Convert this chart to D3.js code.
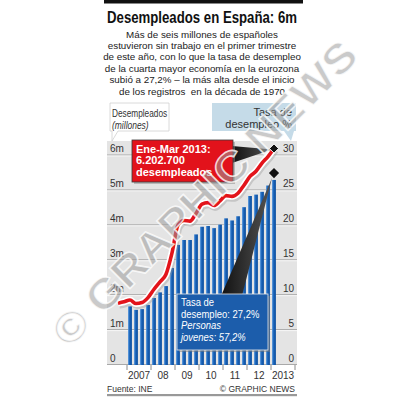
<!DOCTYPE html>
<meta charset="utf-8">
<style>
body { margin: 0; background: #fff; }
svg { display: block; font-family: "Liberation Sans", Arial, sans-serif; }
</style>
<body>
<svg width="404" height="397"></svg>
<script src="https://d3js.org/d3.v7.min.js"></script>
<script>

// unemployment rate (%), quarterly bars, 2007 Q1 .. 2013 Q1
var rate = [8.4, 7.9, 8.0, 8.6,
            9.6, 10.4, 11.3, 13.9,
            17.2, 17.9, 17.9, 18.7,
            19.8, 19.9, 19.6, 20.1,
            21.0, 20.7, 21.3, 22.6,
            24.2, 24.4, 24.8, 25.7,
            26.5];
// unemployed (millions), quarterly line, 2006 Q3 .. 2013 Q1
var unemployed = [1.77, 1.81,
                  1.86, 1.76, 1.79, 1.93,
                  2.17, 2.38, 2.60, 3.21,
                  4.01, 4.14, 4.12, 4.34,
                  4.61, 4.65, 4.57, 4.70,
                  4.85, 4.83, 4.92, 5.15,
                  5.40, 5.55, 5.78, 5.97,
                  6.20];
var yearLabels = ["2007", "08", "09", "10", "11", "12", "2013"];
var leftTicks = [0, 1, 2, 3, 4, 5, 6];
var rightTicks = [0, 5, 10, 15, 20, 25, 30];
var subtitle = [
  "Más de seis millones de españoles",
  "estuvieron sin trabajo en el primer trimestre",
  "de este año, con lo que la tasa de desempleo",
  "de la cuarta mayor economía en la eurozona",
  "subió a 27,2% – la más alta desde el inicio",
  "de los registros  en la década de 1970"
];

var svg = d3.select("svg");

var x = d3.scaleLinear().domain([2007, 2014]).range([127, 295]);
var y = d3.scaleLinear().domain([0, 6]).range([365, 155.5]);
var yr = d3.scaleLinear().domain([0, 30]).range([365, 155.5]);

// quarter centre: year + (q + 0.5)/4
function qx(start, i) { return x(start + (i + 0.5) / 4); }

// condensed text: squeeze a normal face horizontally
function narrow(sel, px, py, k) {
  return sel.append("text").attr("transform", "translate(" + px + "," + py + ") scale(" + k + ",1)");
}

var defs = svg.append("defs");
var grad = defs.append("linearGradient").attr("id", "bar");
grad.append("stop").attr("offset", "0%").attr("stop-color", "#4f93dd");
grad.append("stop").attr("offset", "45%").attr("stop-color", "#1760b5");
grad.append("stop").attr("offset", "100%").attr("stop-color", "#0d4f9e");
var wedge = defs.append("linearGradient").attr("id", "wedge").attr("x1", 0).attr("x2", 1);
wedge.append("stop").attr("offset", "0%").attr("stop-color", "#111");
wedge.append("stop").attr("offset", "100%").attr("stop-color", "#555");

// top rule and title
svg.append("rect").attr("x", 104).attr("y", 0).attr("width", 199).attr("height", 3.5).attr("fill", "#111");
narrow(svg, 202, 23, 0.8)
    .attr("text-anchor", "middle")
    .attr("font-size", 16.5).attr("font-weight", "bold").attr("fill", "#111")
    .text("Desempleados en España: 6m");

svg.append("g").selectAll("text")
    .data(subtitle)
    .enter().append("text")
    .attr("x", 202)
    .attr("y", function(d, i) { return 37.5 + i * 11.4; })
    .attr("text-anchor", "middle")
    .attr("font-size", 9.8)
    .attr("fill", "#222")
    .style("white-space", "pre")
    .text(function(d) { return d; });

// panel
svg.append("rect").attr("x", 107).attr("y", 141).attr("width", 190).attr("height", 224).attr("fill", "#e4e4e4");

var grid = svg.append("g");
grid.selectAll("line.g")
    .data(leftTicks)
    .enter().append("line")
    .attr("x1", 107).attr("x2", 297)
    .attr("y1", function(d) { return y(d) - 0.5; })
    .attr("y2", function(d) { return y(d) - 0.5; })
    .attr("stroke", "#a9a9a9");
grid.selectAll("line.w")
    .data(leftTicks.slice(1))
    .enter().append("line")
    .attr("x1", 107).attr("x2", 297)
    .attr("y1", function(d) { return y(d) + 0.5; })
    .attr("y2", function(d) { return y(d) + 0.5; })
    .attr("stroke", "#f6f6f6");

grid.selectAll("text.l")
    .data(leftTicks)
    .enter().append("text")
    .attr("x", 110)
    .attr("y", function(d) { return y(d) - 3.5; })
    .attr("font-size", 10).attr("fill", "#333")
    .text(function(d) { return d === 0 ? "0" : d + "m"; });
grid.selectAll("text.r")
    .data(rightTicks)
    .enter().append("text")
    .attr("x", 294)
    .attr("y", function(d) { return yr(d) - 3.5; })
    .attr("text-anchor", "end")
    .attr("font-size", 10).attr("fill", "#333")
    .text(function(d) { return d; });

// axis label boxes
svg.append("path")
    .attr("d", "M110,103 H169 V131 H118 L112,141 L112,131 H110 Z")
    .attr("fill", "#fff").attr("stroke", "#d0d0d0").attr("stroke-width", 0.8);
narrow(svg, 112, 116.5, 0.78).attr("font-size", 10.6).attr("fill", "#333").text("Desempleados");
narrow(svg, 112, 128.5, 0.8).attr("font-size", 10.6).attr("fill", "#333")
    .attr("font-style", "italic").text("(millones)");

svg.append("path")
    .attr("d", "M212,103 H296 V131 H294 L291,141 L284,131 H212 Z")
    .attr("fill", "#c5dbe8");
svg.append("text").attr("x", 292).attr("y", 116).attr("text-anchor", "end").attr("font-size", 11).attr("fill", "#333").text("Tasa de");
svg.append("text").attr("x", 292).attr("y", 128).attr("text-anchor", "end").attr("font-size", 11).attr("fill", "#333").text("desempleo %");

// bars
svg.append("g").selectAll("rect")
    .data(rate)
    .enter().append("rect")
    .attr("x", function(d, i) { return qx(2007, i) - 1.9; })
    .attr("width", 3.8)
    .attr("y", function(d) { return yr(d); })
    .attr("height", function(d) { return yr(0) - yr(d); })
    .attr("fill", "url(#bar)");

// x axis
var xa = svg.append("g");
xa.selectAll("line")
    .data(d3.range(2007, 2015))
    .enter().append("line")
    .attr("x1", function(d) { return x(d); }).attr("x2", function(d) { return x(d); })
    .attr("y1", 365).attr("y2", 370)
    .attr("stroke", "#8a8a8a");
xa.selectAll("text")
    .data(yearLabels)
    .enter().append("text")
    .attr("x", function(d, i) { return x(2007 + i + 0.5); })
    .attr("y", 379)
    .attr("text-anchor", "middle")
    .attr("font-size", 10).attr("fill", "#333")
    .text(function(d) { return d; });

// line
var line = d3.line()
    .x(function(d, i) { return qx(2006.5, i); })
    .y(function(d) { return y(d); })
    .curve(d3.curveMonotoneX);
svg.append("path").datum(unemployed).attr("d", line)
    .attr("fill", "none").attr("stroke", "#999").attr("stroke-opacity", 0.4).attr("stroke-width", 8)
    .attr("transform", "translate(1,1.5)");
svg.append("path").datum(unemployed).attr("d", line)
    .attr("fill", "none").attr("stroke", "#fff").attr("stroke-width", 7).attr("stroke-linejoin", "round");
svg.append("path").datum(unemployed).attr("d", line)
    .attr("fill", "none").attr("stroke", "#e3141b").attr("stroke-width", 3.6).attr("stroke-linejoin", "round");

var last = unemployed.length - 1;
var endX = qx(2006.5, last), endY = y(unemployed[last]);
var barX = qx(2007, rate.length - 1), barY = yr(rate[rate.length - 1]);

// red callout
svg.append("path")
    .attr("d", "M232,146 L" + (endX - 2) + "," + (endY + 1) + " L232,163 Z")
    .attr("fill", "url(#wedge)");
svg.append("rect").attr("x", 134).attr("y", 142).attr("width", 101).attr("height", 42).attr("fill", "#888").attr("opacity", 0.5);
svg.append("rect").attr("x", 132).attr("y", 140).attr("width", 101).attr("height", 42)
    .attr("fill", "#e2121b").attr("stroke", "#3a3a3a").attr("stroke-width", 0.8);
svg.append("g").selectAll("text")
    .data(["Ene-Mar 2013:", "6.202.700", "desempleados"])
    .enter().append("text")
    .attr("x", 136)
    .attr("y", function(d, i) { return 152.5 + i * 11.5; })
    .attr("font-size", 11).attr("font-weight", "bold").attr("fill", "#fff")
    .text(function(d) { return d; });

svg.append("rect").attr("x", endX - 3.2).attr("y", endY - 3.2).attr("width", 6.4).attr("height", 6.4)
    .attr("fill", "#111").attr("stroke", "#fff").attr("stroke-width", 0.8)
    .attr("transform", "rotate(45," + endX + "," + endY + ")");

// blue callout
svg.append("path")
    .attr("d", "M221,296 L" + (barX - 2) + "," + (barY - 2) + " L242,296 Z")
    .attr("fill", "url(#wedge)");
svg.append("rect").attr("x", barX - 3.6).attr("y", barY - 10.5).attr("width", 7.2).attr("height", 7.2)
    .attr("fill", "#111")
    .attr("transform", "rotate(45," + barX + "," + (barY - 6.9) + ")");
svg.append("rect").attr("x", 179).attr("y", 296).attr("width", 91).attr("height", 56).attr("fill", "#777").attr("opacity", 0.5);
svg.append("rect").attr("x", 177).attr("y", 294).attr("width", 91).attr("height", 56)
    .attr("fill", "#1c5dab").attr("stroke", "#e8e8e8").attr("stroke-width", 0.8);
["Tasa de", "desempleo: 27,2%", "Personas", "jovenes: 57,2%"].forEach(function(d, i) {
  narrow(svg, 181, 306 + i * 11.7, 0.86)
      .attr("font-size", 11).attr("fill", "#fff")
      .attr("font-style", i > 1 ? "italic" : null)
      .text(d);
});

// footer
svg.append("text").attr("x", 107).attr("y", 391.5).attr("font-size", 8.5).attr("fill", "#333").text("Fuente: INE");
svg.append("text").attr("x", 295).attr("y", 391.5).attr("text-anchor", "end").attr("font-size", 8.5).attr("fill", "#333").text("© GRAPHIC NEWS");
svg.append("rect").attr("x", 107).attr("y", 394).attr("width", 190).attr("height", 2.2).attr("fill", "#999");

// watermark, set letter by letter along the diagonal
var wm = "© GRAPHIC NEWS", wmLen = 412, wmCx = 204, wmCy = 193;
var meas = svg.append("text").attr("font-size", 42).attr("font-weight", "bold").text(wm);
var mnode = meas.node();
var k = wmLen / mnode.getComputedTextLength();
var letters = [];
for (var i = 0; i < wm.length; i++) {
  if (wm[i] === " ") continue;
  var ext = mnode.getExtentOfChar(i);
  letters.push({ ch: wm[i], u: (ext.x + ext.width / 2) * k - wmLen / 2 });
}
meas.remove();
var c = Math.SQRT1_2;
svg.append("g").selectAll("text")
    .data(letters)
    .enter().append("text")
    .attr("transform", function(d) {
      return "translate(" + (wmCx + d.u * c) + "," + (wmCy - d.u * c) + ") rotate(-45) scale(" + k + ",1)";
    })
    .attr("text-anchor", "middle").attr("dy", "0.36em")
    .attr("font-size", 42).attr("font-weight", "bold")
    .attr("fill", "#9c9c9c").attr("fill-opacity", 0.55)
    .attr("stroke", "#fff").attr("stroke-width", 1.5).attr("stroke-opacity", 0.8)
    .text(function(d) { return d.ch; });

</script>
</body>
